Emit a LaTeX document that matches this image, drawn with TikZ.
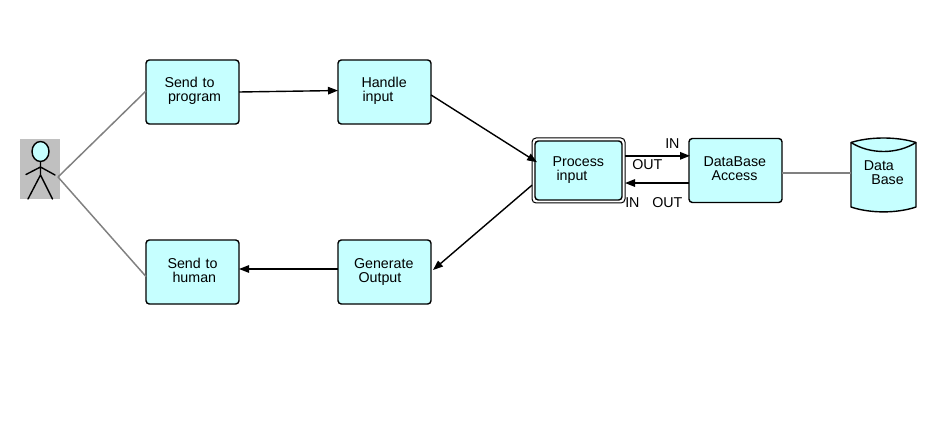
\documentclass[tikz,border=0pt]{standalone}
\usepackage{fontspec}
\setmainfont{Liberation Sans}
\usetikzlibrary{arrows.meta}
\newdimen\pxu \pxu=0.75pt
\newcommand{\twolines}[4]{\hspace*{#1\pxu}\rule{0pt}{8pt}#2\\\hspace*{#3\pxu}#4\rule[-3.5pt]{0pt}{3.5pt}}
\definecolor{boxfill}{HTML}{C6FFFF}
\definecolor{link}{HTML}{808080}
\definecolor{actorbg}{HTML}{C0C0C0}
\tikzset{
  x=0.75pt,y=-0.75pt,
  txt/.style={font=\fontsize{10.7}{10.5}\selectfont,text=black},
  procbox/.style={txt,draw=black,fill=boxfill,line width=1.05pt,rounded corners=2.5pt,outer sep=0pt,
    inner xsep=0pt,inner ysep=0pt,minimum width=69.75pt,minimum height=48pt,text width=69.75pt,align=left},
  framebox/.style={draw=black,fill=white,line width=0.75pt,rounded corners=3pt,outer sep=0pt,inner sep=0pt,
    minimum width=69.75pt,minimum height=48.75pt},
  mainbox/.style={procbox,minimum width=65.25pt,minimum height=44.25pt,text width=65.25pt},
  tag/.style={txt,inner sep=0pt,anchor=base west},
  flow/.style={draw=black,line width=1.05pt,-{Triangle[length=7.5pt,width=5.6pt]},shorten >=0pt},
  assoc/.style={draw=link,line width=1.1pt},
  stick/.style={draw=black,line width=1.05pt,line cap=round,line join=round},
}
\begin{document}
\begin{tikzpicture}
\useasboundingbox (0,0) rectangle (935,424);
\fill[white] (0,0) rectangle (935,424);

% actor
\node[fill=actorbg,minimum width=30pt,minimum height=45pt,inner sep=0pt,outer sep=0pt] (actor) at (40,169) {};
\draw[stick,fill=boxfill] (40.5,151.5) ellipse [x radius=8.5,y radius=10];
\draw[stick] (40.5,161.5) -- (40.5,175) (26,174.5) -- (40.5,167) -- (55,175) (28,199) -- (40.5,175) -- (52.5,199);

% boxes
\node[procbox] (send) at (192.5,92) {\twolines{18.5}{Send to}{22}{program}};
\node[procbox] (handle) at (384.5,92) {\twolines{23.5}{Handle}{24.5}{input}};
\node[framebox] (frame) at (578.5,170.5) {};
\node[mainbox] (proc) at (578.5,170.5) {\twolines{17.5}{Process}{21.5}{input}};
\node[procbox] (dba) at (735.5,170.5) {\twolines{14.5}{DataBase}{22.5}{Access}};
\node[procbox] (gen) at (384.5,272) {\twolines{16}{Generate}{20.5}{Output}};
\node[procbox] (human) at (192.5,272) {\twolines{21.5}{Send to}{26.5}{human}};

% database
\draw[draw=black,fill=boxfill,line width=1.05pt,line join=round]
  (851,142.5) .. controls (870,136.5) and (897,136.5) .. (916,142.5)
  -- (916,207) .. controls (897,213.5) and (870,213.5) .. (851,207) -- cycle;
\draw[black,line width=1.05pt] (851,142.5) .. controls (870,154.5) and (897,154.5) .. (916,142.5);
\node[txt,inner sep=0pt,align=left,anchor=north west] (db) at (863.5,160) {\rule{0pt}{8pt}Data\\\hspace*{7.5\pxu}Base};
\coordinate (dbleft) at (851,173);

% connectors
\draw[assoc] ([xshift=-1.5pt,yshift=-6pt]actor.east) -- ([yshift=0.75pt]send.west);
\draw[assoc] ([xshift=-1.5pt,yshift=-6pt]actor.east) -- ([yshift=-3.4pt]human.west);
\draw[assoc] (dba.east) ++(0,2.5) -- (dbleft);
\draw[flow] (send.east) -- ([yshift=1.1pt]handle.west);
\draw[flow] ([yshift=-2.2pt]handle.east) -- ([xshift=3.8pt,yshift=6.2pt]frame.west);
\draw[flow] ([yshift=-11pt]frame.west) -- ([xshift=1.5pt,yshift=1.5pt]gen.east);
\draw[flow] ([yshift=2.25pt]gen.west) -- ([yshift=2.25pt]human.east);
\draw[flow] ([yshift=11pt]frame.east) -- ([xshift=0.75pt,yshift=11pt]dba.west);
\draw[flow] ([yshift=-9.4pt]dba.west) -- ([yshift=-9.4pt]frame.east);

% link labels
\node[tag] (l1) at (665,149) {IN};
\node[tag] (l2) at (632,170) {OUT};
\node[tag] (l3) at (625,207) {IN};
\node[tag] (l4) at (652,207) {OUT};
\end{tikzpicture}
\end{document}
